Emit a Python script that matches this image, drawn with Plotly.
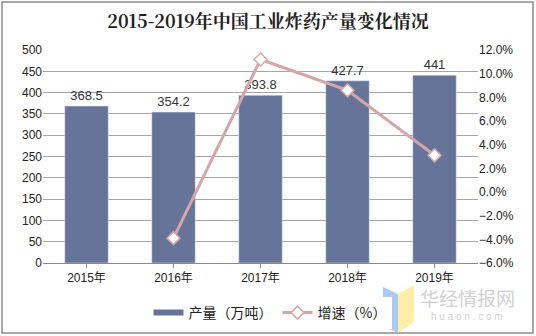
import plotly.graph_objects as go

years = ["2015年", "2016年", "2017年", "2018年", "2019年"]
output = [368.5, 354.2, 393.8, 427.7, 441]
growth_years = ["2016年", "2017年", "2018年", "2019年"]
growth = [-3.9, 11.2, 8.6, 3.1]

W, H = 536, 336
L, R, T, B = 43, 58, 50, 73
PW, PH = W - L - R, H - T - B

def px(x):
    return (x - L) / PW

def py(y):
    return (H - B - y) / PH

font_main = "Liberation Sans, Arial, Noto Sans CJK SC, sans-serif"
bar_color = "#67749a"
line_color = "#d6a6a6"

fig = go.Figure()
fig.add_trace(go.Bar(
    x=years, y=output, name="产量（万吨）", showlegend=False,
    marker=dict(color=bar_color),
    text=[f"{v:g}" for v in output], textposition="outside",
    textfont=dict(size=13, color="#333333", family=font_main),
    cliponaxis=False,
))
# legend-only entry for the bar series (wide bar symbol like the reference)
fig.add_trace(go.Scatter(
    x=[None], y=[None], name="产量（万吨）", mode="lines",
    line=dict(color=bar_color, width=6),
))
fig.add_trace(go.Scatter(
    x=growth_years, y=growth, name="增速（%）", yaxis="y2",
    mode="lines+markers",
    line=dict(color=line_color, width=3),
    marker=dict(symbol="diamond", size=10, color="white",
                line=dict(color=line_color, width=1.5)),
))

shapes = [
    dict(type="rect", xref="paper", yref="paper",
         x0=px(2), x1=px(533), y0=py(333), y1=py(2),
         line=dict(color="#8c8c8c", width=1.5), fillcolor="rgba(0,0,0,0)", layer="below"),
    # watermark logo panels
    dict(type="path", xref="paper", yref="paper",
         path=f"M {px(383)} {py(287)} L {px(398)} {py(294)} L {px(398)} {py(333)} L {px(383)} {py(326)} Z",
         fillcolor="rgba(150,190,245,0.8)", line=dict(width=0)),
    dict(type="path", xref="paper", yref="paper",
         path=f"M {px(398)} {py(294)} L {px(414)} {py(285)} L {px(414)} {py(322)} L {px(398)} {py(333)} Z",
         fillcolor="rgba(255,235,150,0.85)", line=dict(width=0)),
]

annotations = [
    dict(text="华经情报网", xref="paper", yref="paper", x=px(467), y=py(297),
         showarrow=False, font=dict(size=19, color="rgba(195,195,195,0.8)",
                                    family="Noto Sans CJK SC"), xanchor="center", yanchor="middle"),
    dict(text="h u a o n . c o m", xref="paper", yref="paper", x=px(467), y=py(316),
         showarrow=False, font=dict(size=10, color="rgba(195,195,195,0.8)",
                                    family=font_main), xanchor="center", yanchor="middle"),
]

fig.update_layout(
    width=W, height=H,
    margin=dict(l=L, r=R, t=T, b=B, autoexpand=False),
    paper_bgcolor="white", plot_bgcolor="white",
    title=dict(text="<b>2015-2019年中国工业炸药产量变化情况</b>",
               x=0.5, xanchor="center", y=1 - 22 / H, yanchor="middle",
               font=dict(size=18, color="#222222", family="Noto Serif CJK SC, Noto Sans CJK SC, serif")),
    bargap=0.5,
    showlegend=True,
    legend=dict(orientation="h", x=px(270), xanchor="center", y=py(313), yanchor="middle",
                font=dict(size=14, color="#222222", family="Noto Sans CJK SC"),
                itemwidth=30, tracegroupgap=0),
    xaxis=dict(showline=True, linecolor="#888888", linewidth=1, ticks="outside",
               tickcolor="#888888", ticklen=4,
               tickfont=dict(size=12, color="#222222", family=font_main)),
    yaxis=dict(range=[0, 500], dtick=50, showgrid=True, gridcolor="#a6a6a6",
               gridwidth=1, zeroline=False,
               tickfont=dict(size=12, color="#222222", family=font_main)),
    yaxis2=dict(range=[-6, 12], dtick=2, overlaying="y", side="right",
                showgrid=False, zeroline=False, tickformat=".1f", ticksuffix="%",
                tickfont=dict(size=12, color="#222222", family=font_main)),
    shapes=shapes, annotations=annotations,
)

fig.write_html("out.html")
